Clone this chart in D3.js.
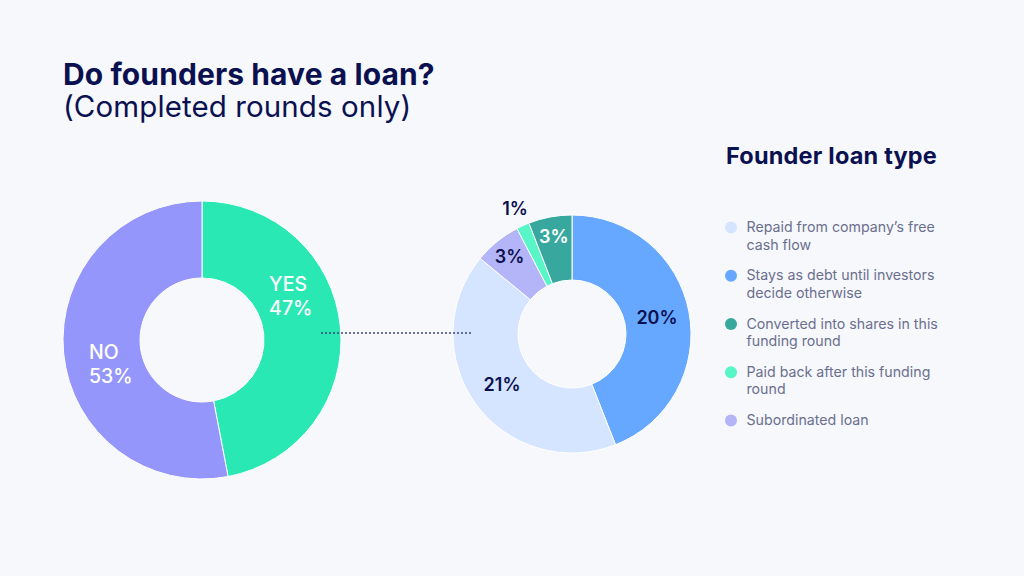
<!DOCTYPE html>
<html>
<head>
<meta charset="utf-8">
<script src="https://cdn.jsdelivr.net/npm/d3@7"></script>
<style>
	html, body { margin: 0; padding: 0; background: #f6f8fc; }
	svg { display: block; font-family: Inter, "Noto Sans", sans-serif; }
</style>
</head>
<body>
<div class="chart"></div>
<script>
// data
var loanCategories = ["YES", "NO"];
var loanValues = [47, 53];
var loanColors = ["#2ae8b4", "#9496fc"];

// order as drawn clockwise from 12 o'clock
var typeCategories = ["Stays as debt until investors decide otherwise",
	"Repaid from company\u2019s free cash flow",
	"Subordinated loan",
	"Paid back after this funding round",
	"Converted into shares in this funding round"];
var typeShares = [20.7, 19.7, 3.0, 0.83, 2.77];
var typeLabels = ["20%", "21%", "3%", "1%", "3%"];
var typeColors = ["#66a8ff", "#d5e5ff", "#b4b4f8", "#58f5c6", "#38a89e"];

// legend order
var legendItems = [
	{ name: "Repaid from company\u2019s free cash flow", lines: ["Repaid from company\u2019s free", "cash flow"] },
	{ name: "Stays as debt until investors decide otherwise", lines: ["Stays as debt until investors", "decide otherwise"] },
	{ name: "Converted into shares in this funding round", lines: ["Converted into shares in this", "funding round"] },
	{ name: "Paid back after this funding round", lines: ["Paid back after this funding", "round"] },
	{ name: "Subordinated loan", lines: ["Subordinated loan"] }
];

var width = 1024,
	height = 576,
	navy = "#0b1150";

var svg = d3.select(".chart").append("svg")
	.attr("width", width)
	.attr("height", height);

svg.append("rect")
	.attr("width", width)
	.attr("height", height)
	.attr("fill", "#f6f8fc");

// titles
svg.append("text")
	.attr("x", 63)
	.attr("y", 85)
	.attr("fill", navy)
	.attr("font-size", 30)
	.attr("font-weight", 700)
	.attr("letter-spacing", 0.1)
	.text("Do founders have a loan?");

svg.append("text")
	.attr("x", 63)
	.attr("y", 117)
	.attr("fill", navy)
	.attr("font-size", 29.5)
	.attr("font-weight", 400)
	.attr("letter-spacing", 0.1)
	.text("(Completed rounds only)");

// left donut
var pie = d3.pie().sort(null).value(function(d) { return d; });
var leftArc = d3.arc().innerRadius(62).outerRadius(139);

var left = svg.append("g").attr("transform", "translate(202,340)");
var leftSlices = pie(loanValues);

left.selectAll("path")
	.data(leftSlices)
	.enter().append("path")
	.attr("d", leftArc)
	.attr("fill", function(d, i) { return loanColors[i]; })
	.attr("stroke", "#ffffff")
	.attr("stroke-width", 1);

// labels sit part way into each slice
var labelPos = [0.37, 0.455];
leftSlices.forEach(function(d, i) {
	var a = d.startAngle + (d.endAngle - d.startAngle) * labelPos[i];
	var r = 97;
	var x = Math.sin(a) * r,
		y = -Math.cos(a) * r;
	var t = left.append("text")
		.attr("x", x - 19)
		.attr("y", y - 4)
		.attr("fill", "#ffffff")
		.attr("font-size", 19.5)
		.attr("font-weight", 500);
	t.append("tspan").attr("x", x - 19).text(loanCategories[i]);
	t.append("tspan").attr("x", x - 19).attr("dy", 23.5).text(loanValues[i] + "%");
});

// right donut
var rightArc = d3.arc().innerRadius(54).outerRadius(119);
var right = svg.append("g").attr("transform", "translate(572,334)");
var rightSlices = pie(typeShares);

right.selectAll("path")
	.data(rightSlices)
	.enter().append("path")
	.attr("d", rightArc)
	.attr("fill", function(d, i) { return typeColors[i]; })
	.attr("stroke", "#ffffff")
	.attr("stroke-width", 1);

rightSlices.forEach(function(d, i) {
	var a = (d.startAngle + d.endAngle) / 2;
	var share = d.value / d3.sum(typeShares);
	var r = share > 0.1 ? 86.5 : (share > 0.03 ? 99 : 138);
	var x = Math.sin(a) * r,
		y = -Math.cos(a) * r;
	right.append("text")
		.attr("x", x)
		.attr("y", y)
		.attr("dy", "0.35em")
		.attr("text-anchor", "middle")
		.attr("fill", typeColors[i] == "#38a89e" ? "#ffffff" : navy)
		.attr("font-size", 18)
		.attr("font-weight", 600)
		.text(typeLabels[i]);
});

// dotted connector, drawn over both donuts
svg.append("line")
	.attr("x1", 321)
	.attr("x2", 472)
	.attr("y1", 333)
	.attr("y2", 333)
	.attr("stroke", "#3b4670")
	.attr("stroke-width", 1.5)
	.attr("stroke-dasharray", "2,2");

// legend
svg.append("text")
	.attr("x", 726)
	.attr("y", 164)
	.attr("fill", navy)
	.attr("font-size", 23.5)
	.attr("font-weight", 700)
	.attr("letter-spacing", 0.2)
	.text("Founder loan type");

var legendY = d3.scalePoint()
	.domain(legendItems.map(function(d) { return d.name; }))
	.range([227.5, 420.5]);

var legend = svg.selectAll(".legend")
	.data(legendItems)
	.enter().append("g")
	.attr("class", "legend")
	.attr("transform", function(d) { return "translate(731," + legendY(d.name) + ")"; });

legend.append("circle")
	.attr("r", 6)
	.attr("fill", function(d) { return typeColors[typeCategories.indexOf(d.name)]; });

legend.each(function(d) {
	var t = d3.select(this).append("text")
		.attr("y", 4.5)
		.attr("fill", "#6b6f8e")
		.attr("font-size", 14.2)
		.attr("font-weight", 400);
	d.lines.forEach(function(line, j) {
		t.append("tspan")
			.attr("x", 15.5)
			.attr("dy", j == 0 ? 0 : 17.5)
			.text(line);
	});
});
</script>
</body>
</html>
